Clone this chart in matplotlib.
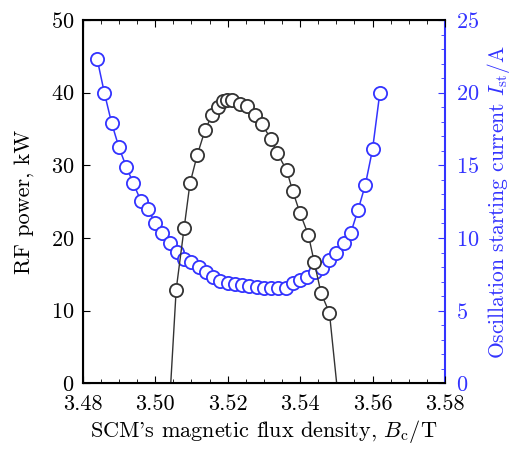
import numpy as np
import matplotlib
matplotlib.use('Agg')
import matplotlib.pyplot as plt
from matplotlib.ticker import MultipleLocator

plt.rcParams['font.family'] = 'cmr10'
plt.rcParams['mathtext.fontset'] = 'cm'
plt.rcParams['axes.formatter.use_mathtext'] = True
plt.rcParams['font.size'] = 16

# RF power (kW) vs B_c (T); the curve goes to zero at both ends without markers
b_rf = [3.5043, 3.5058, 3.5080, 3.5096, 3.5116, 3.5138, 3.5157, 3.5174, 3.5188, 3.5199,
        3.5211, 3.5234, 3.5253, 3.5276, 3.5294, 3.5320, 3.5337, 3.5363, 3.5380, 3.5400,
        3.5423, 3.5439, 3.5458, 3.5481, 3.5501]
p_rf = [0.0, 12.9, 21.4, 27.5, 31.4, 34.9, 36.9, 38.0, 38.9, 39.0,
        39.0, 38.4, 38.1, 36.9, 35.7, 33.6, 31.7, 29.3, 26.4, 23.4,
        20.4, 16.7, 12.4, 9.7, 0.0]

# oscillation starting current (A) vs B_c (T)
b_st = [3.484, 3.486, 3.488, 3.490, 3.492, 3.494, 3.496, 3.498, 3.500, 3.502,
        3.504, 3.506, 3.508, 3.510, 3.512, 3.514, 3.516, 3.518, 3.520, 3.522,
        3.524, 3.526, 3.528, 3.530, 3.532, 3.534, 3.536, 3.538, 3.540, 3.542,
        3.544, 3.546, 3.548, 3.550, 3.552, 3.554, 3.556, 3.558, 3.560, 3.562]
i_st = [22.30, 19.96, 17.89, 16.24, 14.91, 13.75, 12.58, 11.98, 11.05, 10.36,
        9.68, 9.06, 8.53, 8.37, 7.98, 7.68, 7.34, 7.06, 6.92, 6.83,
        6.77, 6.70, 6.65, 6.54, 6.54, 6.54, 6.54, 6.88, 7.11, 7.34,
        7.68, 7.91, 8.49, 8.99, 9.68, 10.36, 11.93, 13.65, 16.10, 19.96]

blue = '#3333ff'

fig = plt.figure(figsize=(5.16, 4.51), dpi=100)
ax = fig.add_axes([0.1603, 0.150, 0.7021, 0.8057])
ax2 = ax.twinx()
ax.set_zorder(ax2.get_zorder() + 1)
ax.patch.set_visible(False)

ax2.plot(b_st, i_st, '-o', color=blue, lw=1.1, ms=9.5, mfc='white', mec=blue, mew=1.3)
ax.plot(b_rf, p_rf, '-o', color='#333333', lw=1.0, ms=9.5, mfc='white', mec='#333333',
        mew=1.3, markevery=list(range(1, len(b_rf) - 1)))

ax.set_xlim(3.48, 3.58)
ax.set_ylim(0, 50)
ax2.set_ylim(0, 25)

ax.xaxis.set_major_locator(MultipleLocator(0.02))
ax.xaxis.set_minor_locator(MultipleLocator(0.005))
ax.yaxis.set_major_locator(MultipleLocator(10))
ax2.yaxis.set_major_locator(MultipleLocator(5))
ax2.yaxis.set_minor_locator(MultipleLocator(1))
ax.xaxis.set_major_formatter(plt.FuncFormatter(lambda v, p: '%.2f' % v))

ax.tick_params(axis='x', which='both', direction='in', top=True, labelsize=16, pad=8)
ax.tick_params(axis='x', which='major', length=5)
ax.tick_params(axis='x', which='minor', length=3)
ax.tick_params(axis='y', which='major', direction='in', right=False, length=5, labelsize=16, pad=6)
ax2.tick_params(axis='y', which='both', direction='in', colors=blue, labelsize=16, pad=8)
ax2.tick_params(axis='y', which='major', length=5)
ax2.tick_params(axis='y', which='minor', length=3)
ax2.spines['right'].set_color(blue)
ax2.spines['right'].set_linewidth(1.5)
for s in ['left', 'bottom', 'top']:
    ax.spines[s].set_linewidth(1.5)
ax.spines['right'].set_visible(False)

ax.set_xlabel("SCM's magnetic flux density, $B_\\mathrm{c}$/T", fontsize=16, labelpad=3)
ax.set_ylabel('RF power, kW', fontsize=16, labelpad=12)
ax2.set_ylabel('Oscillation starting current $I_\\mathrm{st}$/A', fontsize=15.5, color=blue, labelpad=4)

fig.savefig('out.png', dpi=100)
